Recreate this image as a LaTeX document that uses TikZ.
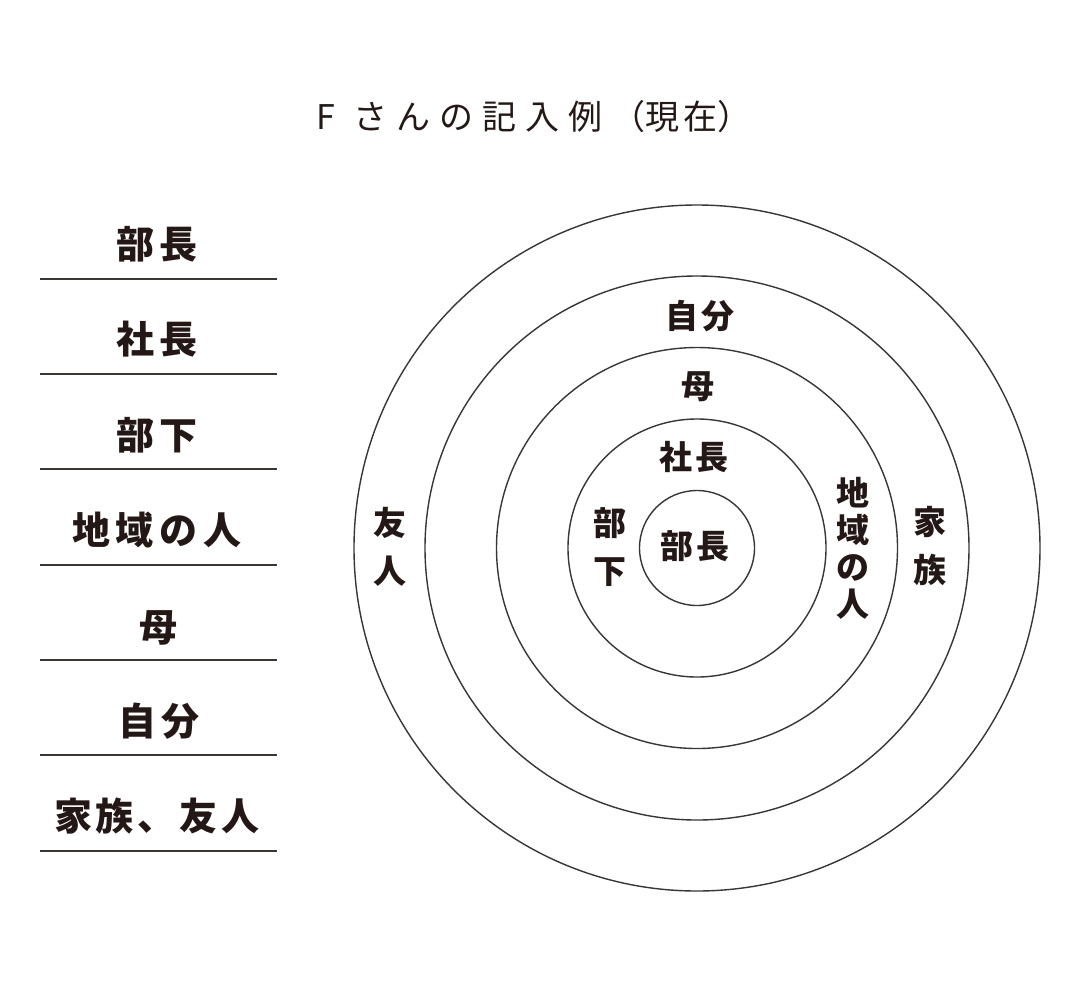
\documentclass[tikz,border=0pt]{standalone}
\usepackage{fontspec}
\newfontfamily\jp{Noto Sans CJK JP}
\definecolor{ink}{HTML}{231815}
\definecolor{linec}{HTML}{3A3634}
\newcommand\lsp{\kern6pt}
\newcommand\lspn{\kern4pt}
\newcommand\csp{\kern3pt}
\newcommand\tsp{\kern9pt}
\begin{document}
\begin{tikzpicture}[x=1pt,y=-1pt,
  ring/.style={circle,draw=linec,line width=1.4pt,inner sep=0pt},
  lbl/.style={text=ink,font=\jp\bfseries\fontsize{38}{44}\selectfont,anchor=base,inner sep=0pt},
  clbl/.style={text=ink,font=\jp\bfseries\fontsize{33}{37}\selectfont,anchor=base,inner sep=0pt},
  vlbl/.style={text=ink,font=\jp\bfseries\fontsize{33}{37}\selectfont,align=center,inner sep=0pt},
  sep/.style={draw=linec,line width=1.8pt},
  ttl/.style={text=ink,font=\jp\fontsize{34}{38}\selectfont,anchor=base west,inner sep=0pt}]
\fill[white] (0,0) rectangle (1065,986);
\path[use as bounding box] (0,0) rectangle (1065,986);

% title
\node[ttl] (title) at (316,129) {F\kern19pt さ\tsp ん\tsp の\tsp 記\tsp 入\tsp 例\tsp （現\kern4pt 在）};

% left column
\node[lbl] (l1) at (157,258) {部\lsp 長};
\node[lbl] (l2) at (157,353) {社\lsp 長};
\node[lbl] (l3) at (157,449) {部\lsp 下};
\node[lbl] (l4) at (157,544) {地\lsp 域\lsp の\lsp 人};
\node[lbl] (l5) at (158,641) {母};
\node[lbl] (l6) at (159,735) {自\lsp 分};
\node[lbl] (l7) at (157,830) {家\lspn 族\lspn 、\lspn 友\lspn 人};
\foreach \yy in {279,374,469,565,660,755,851}
  \draw[sep] (40,\yy) -- (277,\yy);

% rings
\node[ring,minimum size=686pt] (r5) at (697,548) {};
\node[ring,minimum size=544pt] (r4) at (697,548) {};
\node[ring,minimum size=401pt] (r3) at (697,548) {};
\node[ring,minimum size=258pt] (r2) at (697,548) {};
\node[ring,minimum size=115pt] (r1) at (697,548) {};

% ring labels
\node[clbl] (c1) at (695,558.5) {部\csp 長};
\node[clbl] (c2) at (694,469.5) {社\csp 長};
\node[clbl] (c3) at (698,398.5) {母};
\node[clbl] (c4) at (700,328.5) {自\csp 分};
\node[vlbl] (v1) at (610,547) {部\\[11pt]下};
\node[vlbl] (v2) at (853,548) {地\\域\\の\\人};
\node[vlbl] (v3) at (930,546) {家\\[11pt]族};
\node[vlbl] (v4) at (390,547) {友\\[11pt]人};
\end{tikzpicture}
\end{document}
